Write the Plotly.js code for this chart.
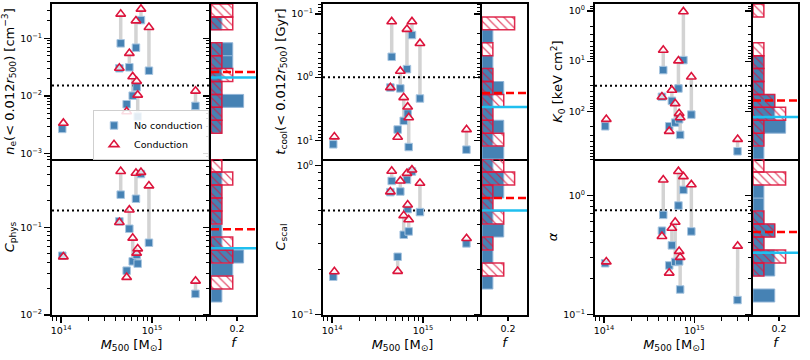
<!DOCTYPE html>
<html>
<head>
<meta charset="utf-8">
<script src="https://cdn.plot.ly/plotly-3.0.1.min.js"></script>
<style>
  body { margin: 0; background: #fff; }
  #chart { width: 810px; height: 360px; }
</style>
</head>
<body>
<div id="chart"></div>
<script>
// cluster masses [Msun]; every array below uses the same cluster order
const massNoCond = [1.03e14, 4.38e14, 4.53e14, 5.27e14, 5.64e14, 6.14e14, 6.67e14, 6.79e14, 6.97e14, 7.57e14, 9.27e14, 3.01e15];
const massCond   = [1.06e14, 4.38e14, 4.53e14, 5.27e14, 5.64e14, 6.14e14, 6.67e14, 6.79e14, 6.97e14, 7.57e14, 9.27e14, 3.02e15];

// central electron density [cm^-3]
const neNoCond = [0.00268, 0.0302, 0.0818, 0.00718, 0.0314, 0.0101, 0.0687, 0.0142, 0.00438, 0.207, 0.0274, 0.00671];
const neCond   = [0.00337, 0.0304, 0.264, 0.00535, 0.0550, 0.0216, 0.202, 0.0180, 0.0104, 0.322, 0.155, 0.0122];

// central cooling time [Gyr]
const tcoolNoCond = [11.6, 1.46, 0.476, 6.76, 1.51, 4.93, 0.746, 3.77, 12.8, 0.215, 2.18, 14.1];
const tcoolCond   = [8.8, 1.46, 0.132, 8.9, 0.804, 2.10, 0.174, 2.96, 4.37, 0.132, 0.292, 6.76];

// core entropy [keV cm^2]
const k0NoCond = [200, 51.6, 15.1, 200, 62.1, 169, 35.2, 145, 297, 9.55, 117, 631];
const k0Cond   = [145, 51.6, 6.03, 251, 38.0, 70.3, 9.84, 111, 134, 1.03, 20.6, 363];

// physical concentration
const cphysNoCond = [0.0474, 0.117, 0.236, 0.032, 0.0964, 0.0409, 0.212, 0.0484, 0.0385, 0.406, 0.0667, 0.0174];
const cphysCond   = [0.0462, 0.114, 0.436, 0.0269, 0.158, 0.0755, 0.416, 0.0509, 0.057, 0.425, 0.298, 0.0244];

// scaled concentration
const cscalNoCond = [0.180, 0.664, 0.789, 0.245, 0.670, 0.344, 0.802, 0.511, 0.362, 0.912, 0.488, 0.301];
const cscalCond   = [0.195, 0.668, 0.918, 0.196, 0.789, 0.463, 0.889, 0.546, 0.434, 0.935, 0.762, 0.325];

// entropy slope alpha
const alphaNoCond = [0.270, 0.505, 0.685, 0.259, 0.381, 0.277, 0.820, 0.280, 0.163, 1.107, 0.498, 0.133];
const alphaCond   = [0.278, 0.453, 1.343, 0.224, 0.531, 0.596, 1.58, 0.340, 0.303, 1.432, 1.225, 0.376];

// cool-core thresholds (dotted lines): ne, tcool, K0, Cphys, Cscal, alpha
const thresholds = [0.0151, 1.0, 31.1, 0.156, 0.5, 0.75];

const blue = '#4682b4';
const red = '#dc143c';
const cyan = '#1fbfef';
const font = 'DejaVu Sans, sans-serif';
const nbins = 12;
const fRange = [0, 0.345];
const xRange = [13.9, 15.65];

// pixel edges of each column (scatter left, divider, hist right) and row (top, bottom)
const colEdges = [[52, 211, 256], [323, 482, 527], [595, 753, 798]];
const rowEdges = [[4, 159], [159, 315]];
const W = 810, H = 360;

const panels = [
  {nc: neNoCond, c: neCond, ref: thresholds[0], yr: [-3.094, -0.405], rev: false, col: 0, row: 0,
   title: '<i>n</i><sub>e</sub>(&lt; 0.012<i>r</i><sub>500</sub>) [cm<sup>−3</sup>]'},
  {nc: tcoolNoCond, c: tcoolCond, ref: thresholds[1], yr: [-1.159, 1.297], rev: true, col: 1, row: 0,
   title: '<i>t</i><sub>cool</sub>(&lt; 0.012<i>r</i><sub>500</sub>) [Gyr]'},
  {nc: k0NoCond, c: k0Cond, ref: thresholds[2], yr: [-0.14, 2.954], rev: true, col: 2, row: 0,
   title: '<i>K</i><sub>0</sub> [keV cm<sup>2</sup>]'},
  {nc: cphysNoCond, c: cphysCond, ref: thresholds[3], yr: [-2.001, -0.22], rev: false, col: 0, row: 1,
   title: '<i>C</i><sub>phys</sub>'},
  {nc: cscalNoCond, c: cscalCond, ref: thresholds[4], yr: [-1.001, 0.044], rev: false, col: 1, row: 1,
   title: '<i>C</i><sub>scal</sub>'},
  {nc: alphaNoCond, c: alphaCond, ref: thresholds[5], yr: [-1.001, 0.3025], rev: false, col: 2, row: 1,
   title: '<i>α</i>'}
];

const xn = n => n === 1 ? 'x' : 'x' + n;
const yn = n => n === 1 ? 'y' : 'y' + n;
const xk = n => n === 1 ? 'xaxis' : 'xaxis' + n;
const yk = n => n === 1 ? 'yaxis' : 'yaxis' + n;

function median(arr) {
  const s = [...arr].sort((a, b) => a - b);
  const m = s.length / 2;
  return s.length % 2 ? s[Math.floor(m)] : (s[m - 1] + s[m]) / 2;
}

// log-spaced histogram over the axis range, as fraction of the sample
function histogram(vals, lo, hi) {
  const w = (hi - lo) / nbins;
  const counts = new Array(nbins).fill(0);
  vals.forEach(v => {
    let k = Math.floor((Math.log10(v) - lo) / w);
    if (k === nbins) k--;
    if (k >= 0 && k < nbins) counts[k]++;
  });
  const x = [], y = [];
  counts.forEach((n, k) => {
    if (n > 0) { y.push(lo + (k + 0.5) * w); x.push(n / vals.length); }
  });
  return {x, y, w};
}

// decade and sub-decade tick positions (in log10 units) inside [lo, hi]
function logTicks(lo, hi) {
  const major = [], minor = [];
  for (let e = Math.floor(lo) - 1; e <= Math.ceil(hi) + 1; e++) {
    if (e >= lo - 1e-3 && e <= hi + 1e-3) major.push(e);
    for (let k = 2; k <= 9; k++) {
      const t = e + Math.log10(k);
      if (t >= lo && t <= hi) minor.push(t);
    }
  }
  return {major, minor};
}
const powLabel = e => '10<sup>' + (e < 0 ? '−' + (-e) : e) + '</sup>';

const traces = [];
const layout = {
  width: W, height: H,
  margin: {l: 0, r: 0, t: 0, b: 0},
  paper_bgcolor: '#fff', plot_bgcolor: 'rgba(0,0,0,0)',
  barmode: 'overlay',
  showlegend: true,
  font: {family: font, color: '#000', size: 10},
  legend: {
    x: 209 / W, xanchor: 'right', y: (H - 135) / H, yanchor: 'middle',
    bgcolor: 'rgba(255,255,255,0.85)', bordercolor: '#cfcfcf', borderwidth: 1,
    font: {family: font, size: 9.5}, tracegroupgap: 0, itemwidth: 30
  }
};

const axBase = {
  showline: true, linewidth: 2, linecolor: '#000',
  showgrid: false, zeroline: false, automargin: false,
  tickcolor: '#000', tickwidth: 1.2, ticklen: 6,
  tickfont: {family: font, size: 9.5, color: '#000'}
};
const minorBase = {ticks: 'outside', ticklen: 3.5, tickwidth: 1, tickcolor: '#000', showgrid: false};

const xt = logTicks(xRange[0], xRange[1]);

panels.forEach((p, i) => {
  const nx = 2 * i + 1, nh = 2 * i + 2;
  const ny = 2 * i + 1, nhy = 2 * i + 2;
  const ce = colEdges[p.col], re = rowEdges[p.row];
  const yDom = [(H - re[1]) / H, (H - re[0]) / H];
  const yRange = p.rev ? [p.yr[1], p.yr[0]] : [p.yr[0], p.yr[1]];
  const bottom = p.row === 1;
  const yt = logTicks(p.yr[0], p.yr[1]);

  // scatter x (top row draws the shared row divider)
  layout[xk(nx)] = Object.assign({}, axBase, {
    type: 'log', range: xRange, domain: [ce[0] / W, ce[1] / W], anchor: yn(ny),
    mirror: !bottom,
    tickmode: 'array', tickvals: xt.major.map(e => Math.pow(10, e)), ticktext: xt.major.map(powLabel),
    ticks: bottom ? 'outside' : '', showticklabels: bottom,
    minor: bottom ? Object.assign({tickmode: 'array', tickvals: xt.minor.map(t => Math.pow(10, t))}, minorBase) : {ticks: ''},
    title: bottom ? {text: '<i>M</i><sub>500</sub> [M<sub>⊙</sub>]', font: {family: font, size: 13}, standoff: 4} : {text: ''}
  });
  // scatter y (right edge is drawn by the histogram axis)
  layout[yk(ny)] = Object.assign({}, axBase, {
    type: 'log', range: yRange, domain: yDom, anchor: xn(nx), mirror: false,
    tickmode: 'array', tickvals: yt.major.map(e => Math.pow(10, e)), ticktext: yt.major.map(powLabel),
    ticks: 'outside',
    minor: Object.assign({tickmode: 'array', tickvals: yt.minor.map(t => Math.pow(10, t))}, minorBase),
    title: {text: p.title, font: {family: font, size: 13}, standoff: 3}
  });
  // histogram x
  layout[xk(nh)] = Object.assign({}, axBase, {
    type: 'linear', range: fRange, domain: [ce[1] / W, ce[2] / W], anchor: yn(nhy),
    mirror: !bottom,
    tickmode: 'array', tickvals: [0.2], ticktext: ['0.2'],
    ticks: bottom ? 'outside' : '', showticklabels: bottom, ticklen: 4,
    title: bottom ? {text: '<i>f</i>', font: {family: font, size: 13}, standoff: 4} : {text: ''}
  });
  // histogram y, in log10 units of the quantity
  layout[yk(nhy)] = Object.assign({}, axBase, {
    type: 'linear', range: yRange, domain: yDom, anchor: xn(nh), mirror: true,
    tickmode: 'array', tickvals: yt.major, ticks: 'outside', showticklabels: false,
    minor: Object.assign({tickmode: 'array', tickvals: yt.minor}, minorBase)
  });

  // connectors
  const cx = [], cy = [];
  p.nc.forEach((v, j) => {
    cx.push(massNoCond[j], massCond[j], null);
    cy.push(v, p.c[j], null);
  });
  traces.push({
    x: cx, y: cy, xaxis: xn(nx), yaxis: yn(ny), type: 'scatter', mode: 'lines',
    line: {color: '#d3d3d3', width: 3.5}, showlegend: false, hoverinfo: 'skip'
  });
  // threshold
  traces.push({
    x: [Math.pow(10, xRange[0]), Math.pow(10, xRange[1])], y: [p.ref, p.ref],
    xaxis: xn(nx), yaxis: yn(ny), type: 'scatter', mode: 'lines',
    line: {color: '#000', width: 2, dash: '2px,3px'}, showlegend: false, hoverinfo: 'skip'
  });
  traces.push({
    x: massNoCond, y: p.nc, xaxis: xn(nx), yaxis: yn(ny), type: 'scatter', mode: 'markers',
    name: 'No conduction', showlegend: i === 0, legendrank: 1,
    marker: {symbol: 'square', size: 7.5, color: blue, line: {color: '#a9c6e0', width: 1}}
  });
  traces.push({
    x: massCond, y: p.c, xaxis: xn(nx), yaxis: yn(ny), type: 'scatter', mode: 'markers',
    name: 'Conduction', showlegend: i === 0, legendrank: 2,
    marker: {symbol: 'triangle-up', size: 8.5, color: 'rgba(255,255,255,0.75)', line: {color: red, width: 1.6}}
  });

  // histograms
  const lo = p.yr[0], hi = p.yr[1];
  const hnc = histogram(p.nc, lo, hi);
  const hc = histogram(p.c, lo, hi);
  traces.push({
    type: 'bar', orientation: 'h', x: hnc.x, y: hnc.y, width: hnc.w,
    xaxis: xn(nh), yaxis: yn(nhy), showlegend: false, hoverinfo: 'skip',
    marker: {color: blue, line: {color: '#8fb3d6', width: 1}}
  });
  traces.push({
    type: 'bar', orientation: 'h', x: hc.x, y: hc.y, width: hc.w,
    xaxis: xn(nh), yaxis: yn(nhy), showlegend: false, hoverinfo: 'skip',
    marker: {
      color: 'rgba(0,0,0,0)',
      line: {color: 'rgba(220,20,60,0.9)', width: 1.5},
      pattern: {shape: '\\', fgcolor: 'rgba(220,20,60,0.75)', bgcolor: 'rgba(0,0,0,0)', size: 6, solidity: 0.2}
    }
  });
  // medians
  const mnc = Math.log10(median(p.nc));
  const mc = Math.log10(median(p.c));
  traces.push({
    x: fRange, y: [mc, mc], xaxis: xn(nh), yaxis: yn(nhy), type: 'scatter', mode: 'lines',
    line: {color: '#ff0000', width: 2.5, dash: '8px,4px'}, showlegend: false, hoverinfo: 'skip'
  });
  traces.push({
    x: fRange, y: [mnc, mnc], xaxis: xn(nh), yaxis: yn(nhy), type: 'scatter', mode: 'lines',
    line: {color: cyan, width: 2.5}, showlegend: false, hoverinfo: 'skip'
  });
});

Plotly.newPlot('chart', traces, layout, {displayModeBar: false, staticPlot: true});
</script>
</body>
</html>
